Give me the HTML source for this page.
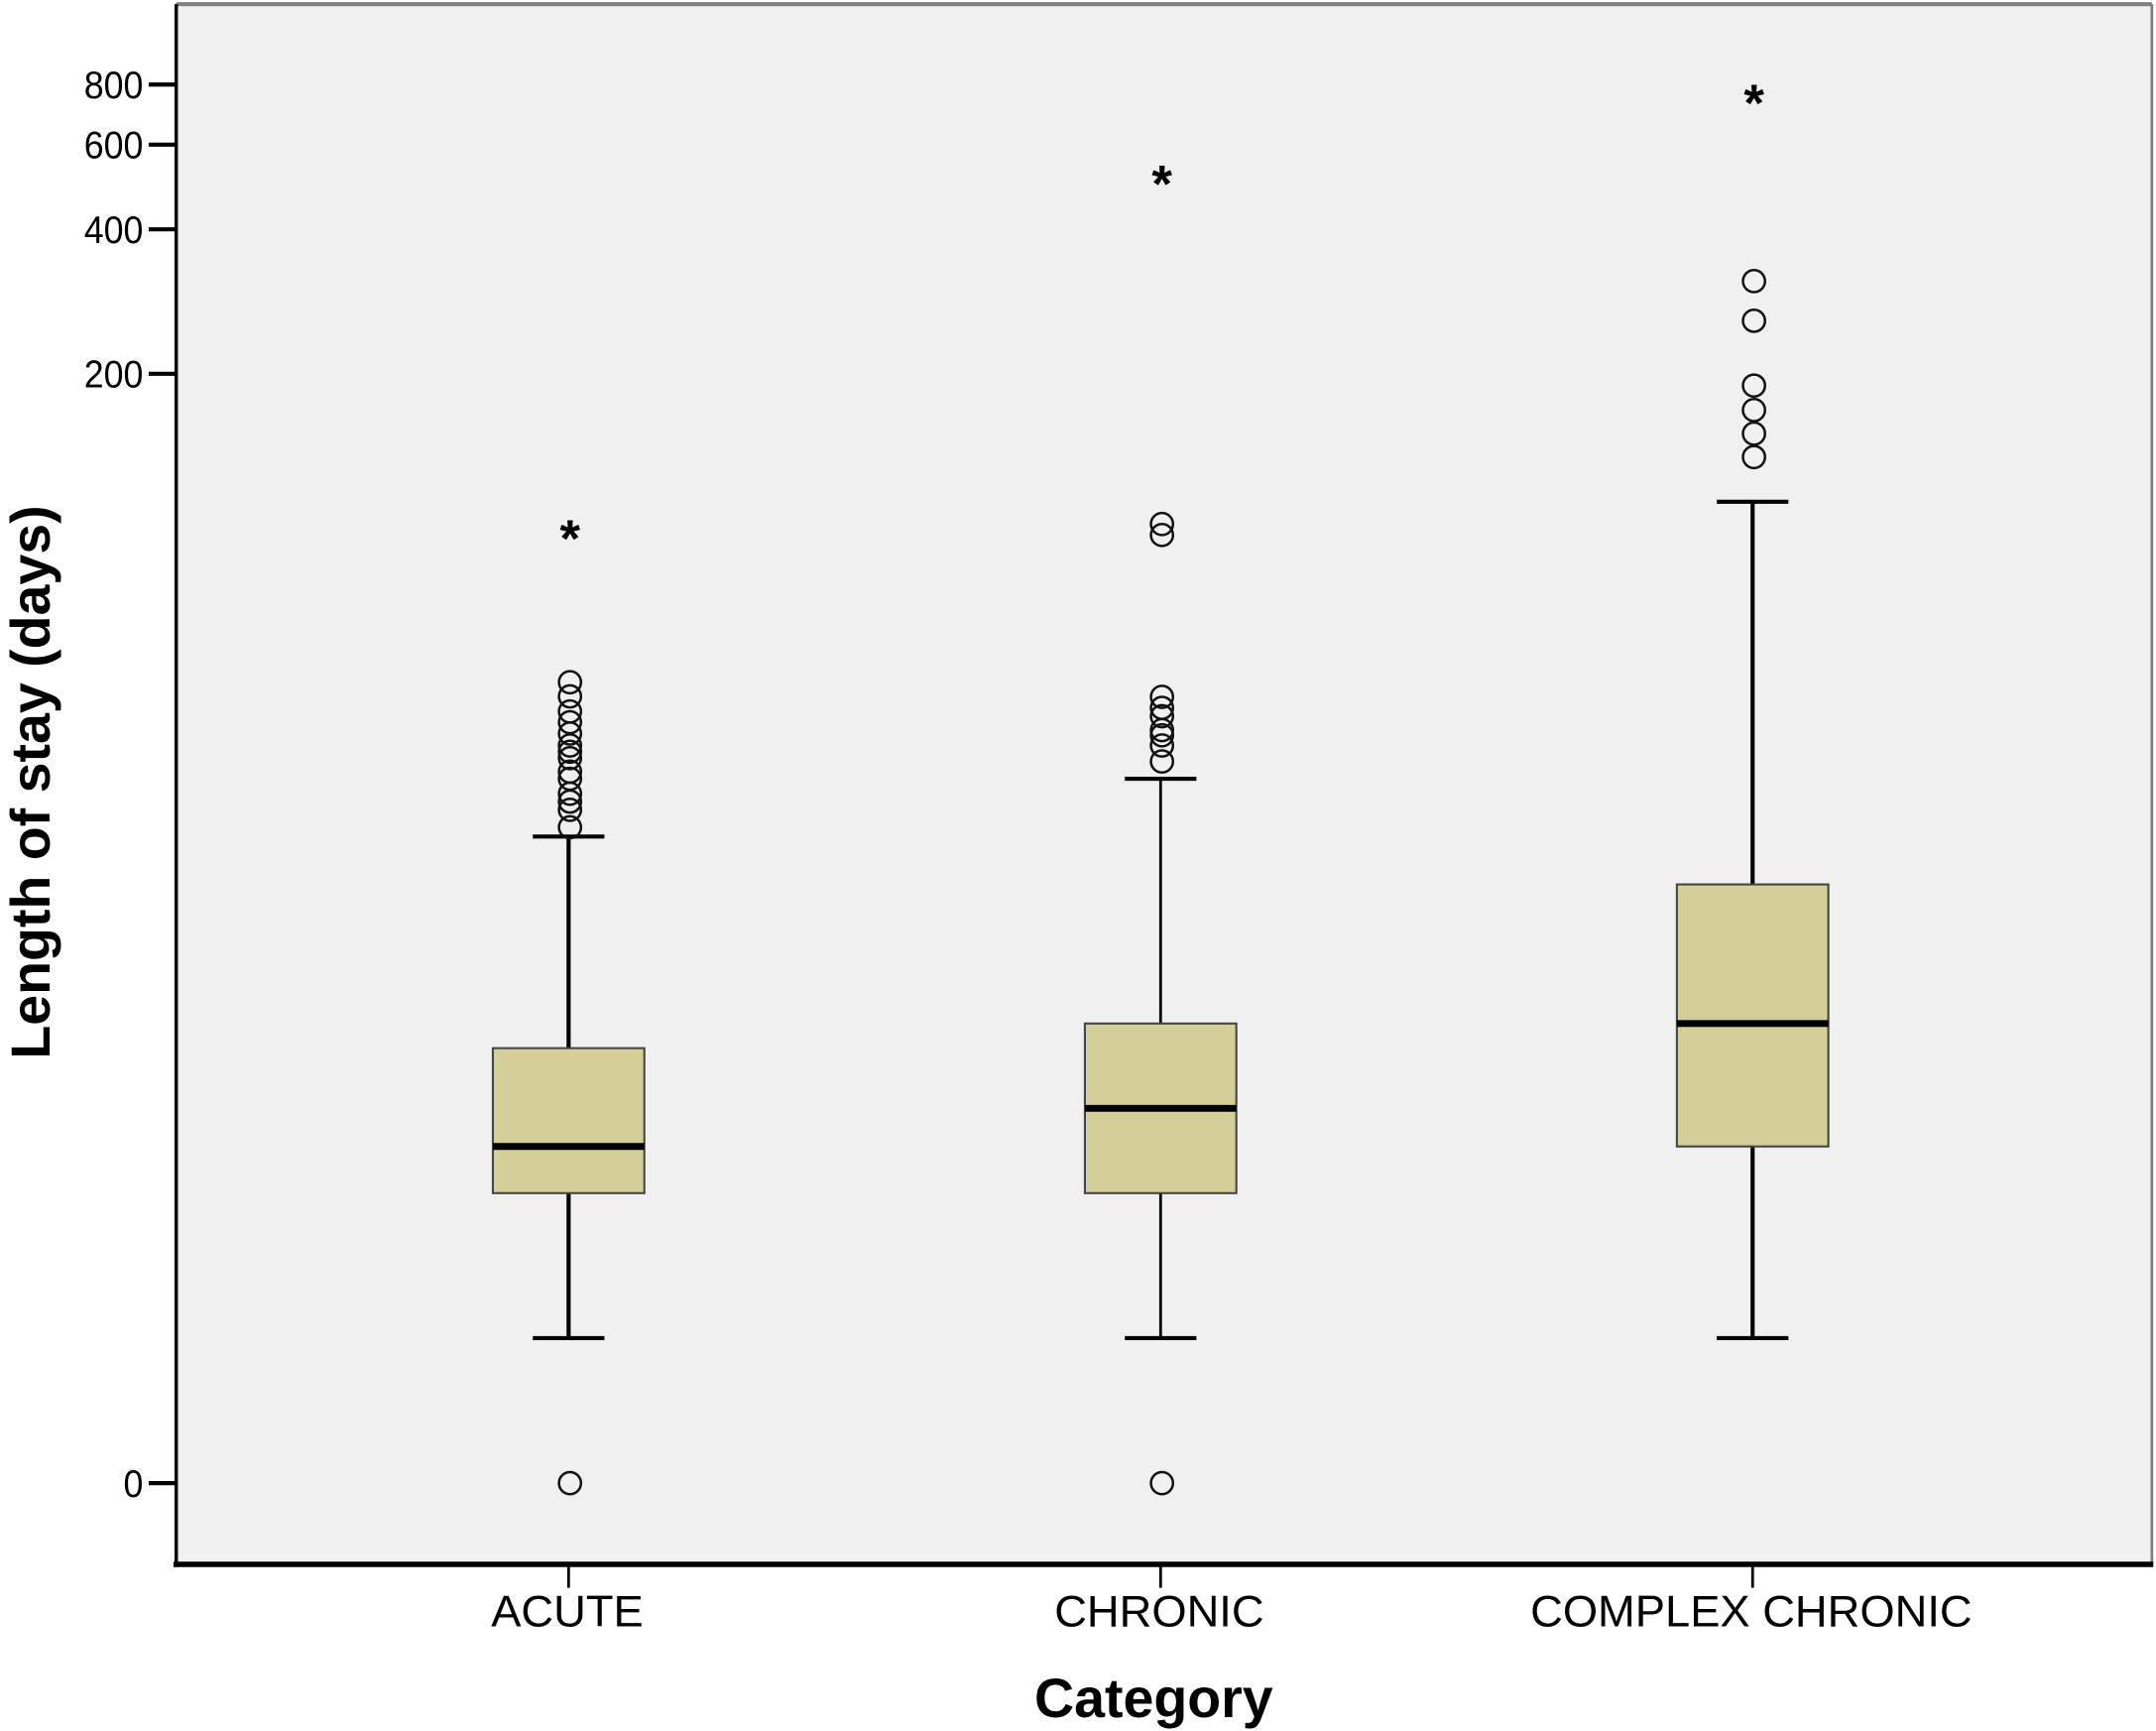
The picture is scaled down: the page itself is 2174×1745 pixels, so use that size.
<!DOCTYPE html>
<html><head><meta charset="utf-8"><style>
html,body{margin:0;padding:0;background:#fff;}
svg{display:block;}
text{font-family:"Liberation Sans",sans-serif;fill:#000;}
</style></head><body>
<svg id="chart" width="2174" height="1745" viewBox="0 0 1566 1257" preserveAspectRatio="none" xmlns="http://www.w3.org/2000/svg">
<rect x="128" y="3" width="1435" height="1133" fill="#f0f0f0"/>
<line x1="128" y1="3" x2="1563" y2="3" stroke="#808080" stroke-width="3"/>
<line x1="1563" y1="3" x2="1563" y2="1136" stroke="#808080" stroke-width="2"/>
<g id="marks"></g>
<line x1="128" y1="3" x2="128" y2="1138" stroke="#000" stroke-width="2.5"/>
<line x1="126" y1="1136" x2="1564" y2="1136" stroke="#000" stroke-width="4"/>
<g id="axes"></g>
<text x="838" y="1247" text-anchor="middle" font-size="40" font-weight="bold">Category</text>
<text transform="translate(36,568) rotate(-90)" text-anchor="middle" font-size="40" font-weight="bold">Length of stay (days)</text>
</svg>
<script>
const categories = ["ACUTE", "CHRONIC", "COMPLEX CHRONIC"];
const q1 = [3, 3, 4];
const medians = [4, 5, 8];
const q3 = [7, 8, 16.5];
const whiskerLow = [1, 1, 1];
const whiskerHigh = [21, 28, 108];
const outliersAcute = [0, 22, 24, 25, 26, 28, 29, 31, 32, 33, 35, 37, 39, 42, 45];
const outliersChronic = [0, 30.5, 33, 34.7, 35.6, 38.1, 39.7, 41.9, 92, 97];
const outliersComplex = [134, 150, 168, 189, 258, 312];
const extremes = [94, 517, 761];
const yTicks = [0, 200, 400, 600, 800];

const NS = "http://www.w3.org/2000/svg";
function yScale(v){ return 1077 - 151.9 * Math.log(v + 1); }
function xScale(i){ return 413 + i * 430; }
const marks = document.getElementById('marks');
const axes = document.getElementById('axes');
function mk(tag, attrs, parent){
  const e = document.createElementNS(NS, tag);
  for (const k in attrs) e.setAttribute(k, attrs[k]);
  parent.appendChild(e); return e;
}
const outliers = [outliersAcute, outliersChronic, outliersComplex];
categories.forEach((c, i) => {
  const x = xScale(i), bw = 110, cw = 52;
  const wl = mk('line', {x1:x, x2:x, y1:yScale(whiskerHigh[i]), y2:yScale(whiskerLow[i]), stroke:'#000', 'stroke-width':i===1?2:3}, marks);
  
  
  const ct = mk('line', {x1:x-cw/2, x2:x+cw/2, y1:yScale(whiskerHigh[i]), y2:yScale(whiskerHigh[i]), stroke:'#000', 'stroke-width':3}, marks);
  
  
  const cb = mk('line', {x1:x-cw/2, x2:x+cw/2, y1:yScale(whiskerLow[i]), y2:yScale(whiskerLow[i]), stroke:'#000', 'stroke-width':3}, marks);
  
  
  const top = yScale(q3[i]), bot = yScale(q1[i]);
  const box = mk('rect', {x:x-bw/2, y:top, width:bw, height:bot-top, fill:'#d4cf98', stroke:'#444', 'stroke-width':1.5}, marks);
  
  
  const md = mk('line', {x1:x-bw/2, x2:x+bw/2, y1:yScale(medians[i]), y2:yScale(medians[i]), stroke:'#000', 'stroke-width':5}, marks);
  
  
  outliers[i].forEach(v => {
    const o = mk('circle', {cx:x+1, cy:yScale(v), r:8, fill:'none', stroke:'#111', 'stroke-width':1.8}, marks);
    
    
  });
  const s = mk('text', {x:x+1, y:yScale(extremes[i])+19, 'text-anchor':'middle', 'font-size':38, 'font-weight':'bold'}, marks);
  s.textContent = '*';
  
  
  const tk = mk('line', {x1:x, x2:x, y1:1136, y2:1153, stroke:'#000', 'stroke-width':2}, axes);
  
  
  const lb = mk('text', {x:0, y:0, 'text-anchor':'middle', 'font-size':32, transform:'translate('+(x-1)+',1181) scale(1.02,1)'}, axes);
  lb.textContent = c;
  
  
});
yTicks.forEach(v => {
  const y = yScale(v);
  const tk = mk('line', {x1:108, x2:128, y1:y, y2:y, stroke:'#000', 'stroke-width':3}, axes);
  
  
  const lb = mk('text', {x:0, y:0, 'text-anchor':'end', 'font-size':28, transform:'translate(104,'+(y+10)+') scale(0.92,1)'}, axes);
  lb.textContent = v;
  
  
});
</script>
</body></html>
